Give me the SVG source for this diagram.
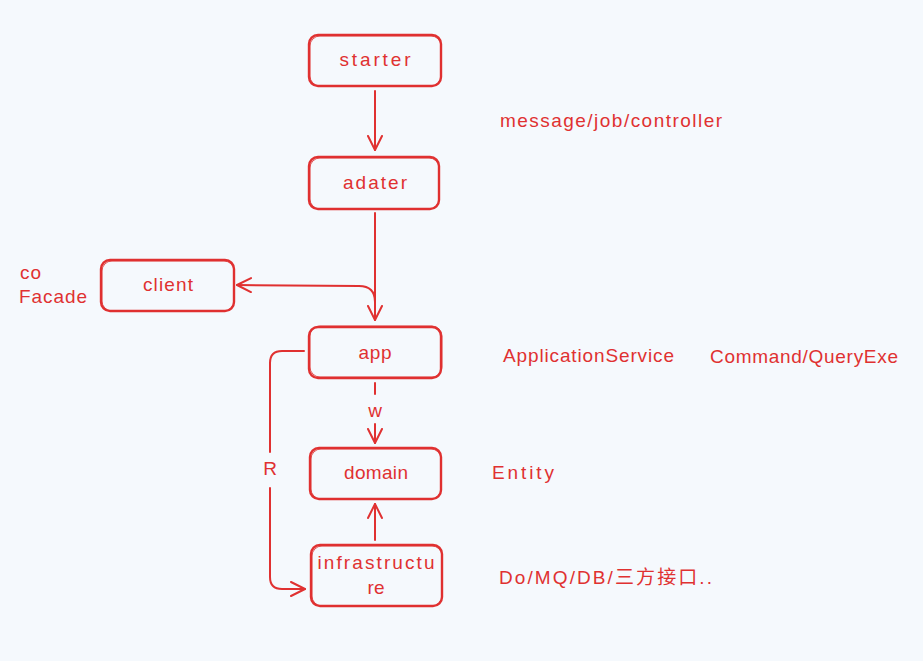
<svg xmlns="http://www.w3.org/2000/svg" width="923" height="661" viewBox="0 0 923 661">
<defs>
<style>
.bg{fill:#f5f9fd}
.box{fill:none;stroke:#e03131;stroke-width:2.4;stroke-linejoin:round}
.box2{fill:none;stroke:#e03131;stroke-width:1;opacity:0.8}
.ln{fill:none;stroke:#e03131;stroke-width:2;stroke-linecap:round;stroke-linejoin:round}
text{font-family:"Liberation Sans","Noto Sans CJK SC",sans-serif;fill:#e03131;font-size:19px}
.c{text-anchor:middle}
</style>
<marker id="ah" viewBox="0 0 16 16" refX="15" refY="8" markerWidth="16" markerHeight="16" markerUnits="userSpaceOnUse" orient="auto">
<path d="M1,1 L15,8 L1,15" fill="none" stroke="#e03131" stroke-width="2" stroke-linecap="round" stroke-linejoin="round"/>
</marker>
</defs>
<rect class="bg" x="0" y="0" width="923" height="661"/>

<g id="connectors">
<path class="ln" d="M375,91 L375,150" marker-end="url(#ah)"/>
<path class="ln" d="M375,213 L375,320" marker-end="url(#ah)"/>
<path class="ln" d="M375,302 Q375,286 359,286 L237,285" marker-end="url(#ah)"/>
<path class="ln" d="M375,383 L375,394"/>
<path class="ln" d="M375,424 L375,443" marker-end="url(#ah)"/>
<path class="ln" d="M375,540 L375,504" marker-end="url(#ah)"/>
<path class="ln" d="M304,351 L282,351 Q270,351 270,363 L270,452"/>
<path class="ln" d="M270,488 L270,577 Q270,589 282,589 L305,589" marker-end="url(#ah)"/>
<text class="c" x="375" y="417">w</text>
<text class="c" x="270" y="475">R</text>
</g>

<g id="starter">
<rect class="box" x="309" y="35" width="132" height="51" rx="9"/>
<rect class="box2" x="310" y="36" width="131" height="50" rx="10"/>
<text class="c" x="375" y="66" textLength="71" lengthAdjust="spacing">starter</text>
</g>
<g id="adater">
<rect class="box" x="309" y="157" width="130" height="52" rx="9"/>
<rect class="box2" x="310" y="158" width="129" height="51" rx="10"/>
<text class="c" x="375" y="189" textLength="64" lengthAdjust="spacing">adater</text>
</g>
<g id="client">
<rect class="box" x="101" y="260" width="133" height="51" rx="9"/>
<rect class="box2" x="102" y="261" width="132" height="50" rx="10"/>
<text class="c" x="168" y="291" textLength="50" lengthAdjust="spacing">client</text>
</g>
<g id="app">
<rect class="box" x="309" y="327" width="132" height="51" rx="9"/>
<rect class="box2" x="310" y="326" width="132" height="51" rx="10"/>
<text class="c" x="375" y="359" textLength="33" lengthAdjust="spacing">app</text>
</g>
<g id="domain">
<rect class="box" x="310" y="448" width="131" height="51" rx="9"/>
<rect class="box2" x="311" y="449" width="130" height="50" rx="10"/>
<text class="c" x="376" y="479" textLength="64" lengthAdjust="spacing">domain</text>
</g>
<g id="infrastructure">
<rect class="box" x="311" y="545" width="131" height="61" rx="9"/>
<rect class="box2" x="312" y="546" width="130" height="60" rx="10"/>
<text class="c" x="376" y="569" textLength="117" lengthAdjust="spacing">infrastructu</text>
<text class="c" x="376" y="594" textLength="17" lengthAdjust="spacing">re</text>
</g>

<g id="notes">
<text x="500" y="127" textLength="222" lengthAdjust="spacing">message/job/controller</text>
<text x="503" y="362" textLength="171" lengthAdjust="spacing">ApplicationService</text>
<text x="710" y="363" textLength="188" lengthAdjust="spacing">Command/QueryExe</text>
<text x="492" y="479" textLength="62" lengthAdjust="spacing">Entity</text>
<text x="499" y="584" textLength="213" lengthAdjust="spacing">Do/MQ/DB/三方接口..</text>
<text x="20" y="279" textLength="21" lengthAdjust="spacing">co</text>
<text x="19" y="303" textLength="68" lengthAdjust="spacing">Facade</text>
</g>
</svg>
